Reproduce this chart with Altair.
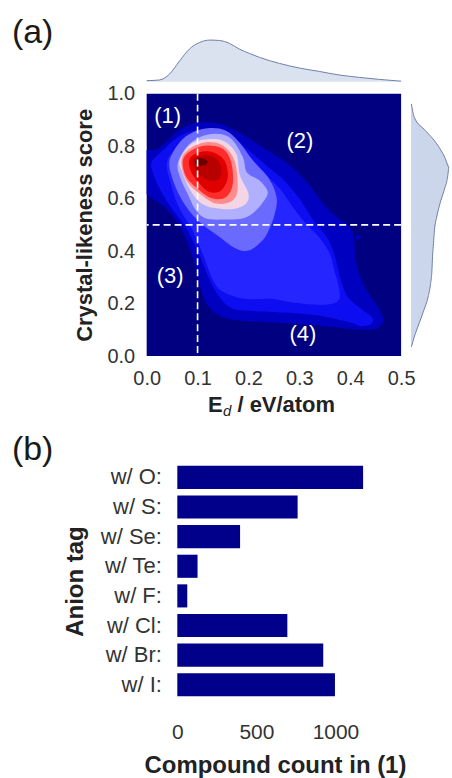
import altair as alt
import pandas as pd

FONT = "Liberation Sans"
LABEL_COLOR = "#333333"
TITLE_COLOR = "#222222"
NAVY = "#000080"
MARGIN_FILL = "#cbd6ea"
MARGIN_LINE = "#6f80a8"
BAR_COLOR = "#00008b"

# ---------------- panel (a): crystal-likeness score vs. E_d ----------------
ED_RANGE = [0.0, 0.5]
SCORE_RANGE = [0.0, 1.0]

# filled KDE bands, drawn from the outermost band inwards; outlines are (E_d, score)
band_order = ["b01", "b02", "b03", "b04", "b05", "b06",
              "b07", "b08", "b09", "b10", "b11", "b12"]
band_colors = ["#0000c0", "#0000c0", "#0d0df2", "#2525ff", "#6a6aff", "#b0b0ff",
               "#f3d5e5", "#ff8c8c", "#ff2c2c", "#e00000", "#b80000", "#6a0000"]

band_outlines = {
    "b01": [(-0.01, 0.77), (0.022, 0.79), (0.048, 0.834), (0.067, 0.866), (0.10, 0.89),
            (0.14, 0.886), (0.172, 0.862), (0.205, 0.824), (0.245, 0.775), (0.275, 0.738),
            (0.30, 0.695), (0.325, 0.64), (0.345, 0.585), (0.37, 0.535), (0.40, 0.49),
            (0.408, 0.44), (0.41, 0.37), (0.42, 0.30), (0.435, 0.24), (0.455, 0.185),
            (0.465, 0.14), (0.455, 0.108), (0.425, 0.10), (0.37, 0.11), (0.31, 0.12),
            (0.25, 0.128), (0.16, 0.142), (0.12, 0.193), (0.105, 0.27), (0.094, 0.357),
            (0.068, 0.484), (0.035, 0.568), (-0.01, 0.64)],
    "b02": [(0.409, 0.452), (0.415, 0.462), (0.421, 0.452), (0.415, 0.443)],
    "b03": [(0.01, 0.74), (0.035, 0.79), (0.06, 0.832), (0.09, 0.858), (0.13, 0.862),
            (0.165, 0.84), (0.20, 0.785), (0.245, 0.71), (0.27, 0.67), (0.30, 0.60),
            (0.33, 0.51), (0.355, 0.45), (0.37, 0.38), (0.38, 0.30), (0.395, 0.225),
            (0.425, 0.175), (0.444, 0.145), (0.44, 0.12), (0.42, 0.115), (0.40, 0.128),
            (0.343, 0.153), (0.278, 0.165), (0.22, 0.17), (0.17, 0.18), (0.145, 0.22),
            (0.125, 0.285), (0.107, 0.37), (0.08, 0.48), (0.05, 0.56), (0.025, 0.64),
            (0.012, 0.70)],
    "b04": [(0.04, 0.74), (0.065, 0.80), (0.10, 0.835), (0.14, 0.84), (0.175, 0.80),
            (0.21, 0.74), (0.235, 0.69), (0.265, 0.63), (0.29, 0.56), (0.315, 0.50),
            (0.34, 0.45), (0.36, 0.39), (0.368, 0.33), (0.378, 0.26), (0.376, 0.21),
            (0.343, 0.195), (0.284, 0.205), (0.245, 0.218), (0.192, 0.218), (0.15, 0.245),
            (0.13, 0.29), (0.112, 0.38), (0.09, 0.48), (0.065, 0.56), (0.05, 0.64)],
    "b05": [(0.045, 0.745), (0.065, 0.815), (0.091, 0.853), (0.124, 0.869), (0.156, 0.859),
            (0.182, 0.815), (0.209, 0.745), (0.235, 0.69), (0.25, 0.64), (0.256, 0.59),
            (0.25, 0.53), (0.24, 0.48), (0.228, 0.441), (0.202, 0.403), (0.176, 0.409),
            (0.143, 0.454), (0.11, 0.50), (0.085, 0.55), (0.065, 0.61), (0.05, 0.68)],
    "b06": [(0.061, 0.733), (0.078, 0.796), (0.104, 0.834), (0.137, 0.847), (0.166, 0.828),
            (0.189, 0.758), (0.197, 0.70), (0.222, 0.669), (0.238, 0.625), (0.228, 0.585),
            (0.212, 0.55), (0.19, 0.525), (0.15, 0.52), (0.115, 0.525), (0.095, 0.56),
            (0.08, 0.62), (0.066, 0.68)],
    "b07": [(0.065, 0.745), (0.084, 0.802), (0.11, 0.824), (0.15, 0.821), (0.176, 0.771),
            (0.183, 0.69), (0.20, 0.62), (0.195, 0.58), (0.17, 0.56), (0.13, 0.565),
            (0.105, 0.585), (0.085, 0.635), (0.07, 0.70)],
    "b08": [(0.068, 0.745), (0.084, 0.79), (0.117, 0.815), (0.15, 0.802), (0.1725, 0.745),
            (0.179, 0.644), (0.169, 0.593), (0.137, 0.581), (0.104, 0.619), (0.078, 0.669)],
    "b09": [(0.0712, 0.745), (0.0876, 0.783), (0.117, 0.802), (0.1497, 0.79), (0.166, 0.739),
            (0.1693, 0.657), (0.156, 0.606), (0.13, 0.60), (0.104, 0.631), (0.078, 0.682)],
    "b10": [(0.0843, 0.7516), (0.1039, 0.777), (0.13, 0.777), (0.1529, 0.745), (0.1595, 0.682),
            (0.1464, 0.631), (0.1235, 0.625), (0.1039, 0.657), (0.0876, 0.701)],
    "b11": [(0.0908, 0.745), (0.1105, 0.764), (0.1333, 0.758), (0.1464, 0.72), (0.1431, 0.676),
            (0.1235, 0.669), (0.1007, 0.695)],
    "b12": [(0.095, 0.74), (0.10, 0.752), (0.112, 0.752), (0.12, 0.74), (0.113, 0.727),
            (0.10, 0.728)],
}

# marginal densities (plotted heights)
top_ed = [0.0, 0.025, 0.045, 0.065, 0.084, 0.104, 0.124, 0.143, 0.163, 0.182,
          0.202, 0.222, 0.261, 0.3, 0.339, 0.378, 0.418, 0.457, 0.5]
top_density = [1.0, 1.7, 7.7, 21.0, 32.7, 39.3, 41.7, 41.3, 38.3, 32.7,
               28.3, 24.3, 18.3, 13.7, 10.3, 6.7, 4.3, 2.3, 0.5]

side_score = [0.035, 0.073, 0.124, 0.175, 0.225, 0.276, 0.327, 0.378, 0.428, 0.479,
              0.53, 0.58, 0.631, 0.682, 0.72, 0.758, 0.809, 0.859, 0.91, 0.961]
side_density = [0.3, 3.3, 8.3, 13.3, 17.7, 20.3, 21.7, 22.3, 23.3, 24.3,
                26.7, 30.0, 34.3, 38.0, 39.5, 35.0, 26.7, 15.0, 3.3, 0.3]

# quadrant split lines and quadrant tags
ed_cut = [0.1]
score_cut = [0.5]
region_text = ["(1)", "(2)", "(3)", "(4)"]
region_ed = [0.041, 0.301, 0.046, 0.307]
region_score = [0.916, 0.819, 0.305, 0.084]

# ---------------- panel (b): anion tags of region (1) ----------------
anion_tags = ["w/ O:", "w/ S:", "w/ Se:", "w/ Te:", "w/ F:", "w/ Cl:", "w/ Br:", "w/ I:"]
compound_counts = [1175, 761, 397, 128, 63, 696, 923, 997]

# ------------------------------------------------------------------------
rows = []
for name in band_order:
    for i, (ed, sc) in enumerate(band_outlines[name]):
        rows.append({"band": name, "vertex": i, "ed": ed, "score": sc})
contour_df = pd.DataFrame(rows)

ed_scale = alt.Scale(domain=ED_RANGE, nice=False, zero=False)
score_scale = alt.Scale(domain=SCORE_RANGE, nice=False, zero=False)

ed_axis = alt.Axis(values=[0.0, 0.1, 0.2, 0.3, 0.4, 0.5], format=".1f", title=None,
                   ticks=False, domain=False, grid=False, labelPadding=12,
                   labelFontSize=20, labelFont=FONT, labelColor=LABEL_COLOR,
                   labelFlush=False, labelOverlap=False)
score_axis = alt.Axis(values=[0.0, 0.2, 0.4, 0.6, 0.8, 1.0], format=".1f",
                      title="Crystal-likeness score", ticks=False, domain=False, grid=False,
                      labelPadding=12, labelFontSize=20, labelFont=FONT,
                      labelColor=LABEL_COLOR, labelFlush=False, labelOverlap=False,
                      titleFont=FONT, titleFontSize=22, titleFontWeight="bold",
                      titleColor=TITLE_COLOR, titleX=-62, titleY=131.5, titleAngle=270,
                      titleBaseline="middle", titleAlign="center")

contours = alt.Chart(contour_df).mark_line(
    filled=True, interpolate="cardinal-closed", strokeWidth=0, clip=True
).encode(
    x=alt.X("ed:Q", scale=ed_scale, axis=ed_axis),
    y=alt.Y("score:Q", scale=score_scale, axis=score_axis),
    color=alt.Color("band:N", scale=alt.Scale(domain=band_order, range=band_colors),
                    legend=None),
    order=alt.Order("vertex:Q"),
)

dash = dict(color="white", strokeDash=[7, 4], strokeWidth=1.6)
v_split = alt.Chart(pd.DataFrame({"ed": ed_cut})).mark_rule(**dash).encode(
    x=alt.X("ed:Q", scale=ed_scale, axis=None))
h_split = alt.Chart(pd.DataFrame({"score": score_cut})).mark_rule(**dash).encode(
    y=alt.Y("score:Q", scale=score_scale, axis=None))

regions = alt.Chart(pd.DataFrame({"tag": region_text, "ed": region_ed,
                                  "score": region_score})).mark_text(
    color="white", fontSize=22, font=FONT, baseline="middle", align="center"
).encode(
    x=alt.X("ed:Q", scale=ed_scale, axis=None),
    y=alt.Y("score:Q", scale=score_scale, axis=None),
    text="tag:N",
)

# top marginal density of E_d
top_df = pd.DataFrame({"ed": top_ed, "density": top_density})
top_y = alt.Scale(domain=[0, 42], range=[-12, -54], nice=False)
top_kde = alt.Chart(top_df).mark_area(
    color=MARGIN_FILL, interpolate="monotone",
    line=alt.OverlayMarkDef(color=MARGIN_LINE, strokeWidth=1)
).encode(
    x=alt.X("ed:Q", scale=ed_scale, axis=None),
    y=alt.Y("density:Q", scale=top_y, axis=None),
)

# right marginal density of the crystal-likeness score
side_df = pd.DataFrame({"score": side_score, "density": side_density})
side_x = alt.Scale(domain=[0, 40], range=[265, 303.5], nice=False)
side_fill = alt.Chart(side_df).mark_area(
    orient="horizontal", color=MARGIN_FILL, interpolate="monotone"
).encode(
    x=alt.X("density:Q", scale=side_x, axis=None),
    y=alt.Y("score:Q", scale=score_scale, axis=None),
)
side_edge = alt.Chart(side_df).mark_line(
    color=MARGIN_LINE, strokeWidth=1, interpolate="monotone", orient="horizontal"
).encode(
    x=alt.X("density:Q", scale=side_x, axis=None),
    y=alt.Y("score:Q", scale=score_scale, axis=None),
    order=alt.Order("score:Q"),
)

# x-axis title "E_d / eV/atom" with an italic subscript
def note(text, **style):
    return alt.Chart(pd.DataFrame({"t": [text]})).mark_text(font=FONT, **style).encode(
        text="t:N")

x_title_main = note("E", fontSize=22, fontWeight="bold", color=TITLE_COLOR,
                    align="left", baseline="alphabetic").encode(
    x=alt.value(61.5), y=alt.value(319))
x_title_sub = note("d", fontSize=15, fontStyle="italic", color=TITLE_COLOR,
                   align="left", baseline="alphabetic").encode(
    x=alt.value(76.5), y=alt.value(323))
x_title_unit = note("/ eV/atom", fontSize=22, fontWeight="bold", color=TITLE_COLOR,
                    align="left", baseline="alphabetic").encode(
    x=alt.value(91), y=alt.value(319))
a_label = note("(a)", fontSize=34, color="#1a1a1a", align="left",
               baseline="middle").encode(x=alt.value(-135), y=alt.value(-60.4))
corner = alt.Chart(pd.DataFrame({"t": [0]})).mark_rect(opacity=0).encode(
    x=alt.value(-147), x2=alt.value(-146), y=alt.value(-93), y2=alt.value(-92))

panel_a = alt.layer(
    contours, v_split, h_split, regions, top_kde, side_fill, side_edge,
    x_title_main, x_title_sub, x_title_unit, a_label, corner
).resolve_scale(x="independent", y="independent").properties(
    width=255, height=263, view=alt.ViewBackground(fill=NAVY, strokeWidth=0))

bar_df = pd.DataFrame({"tag": anion_tags, "count": compound_counts})
bars = alt.Chart(bar_df).mark_bar(color=BAR_COLOR).encode(
    y=alt.Y("tag:N", sort=anion_tags,
            scale=alt.Scale(paddingInner=0.22, paddingOuter=0.11),
            axis=alt.Axis(title="Anion tag", offset=-30.7, labelPadding=16, ticks=False,
                          domain=False, grid=False, labelFontSize=22, labelFont=FONT,
                          labelColor=LABEL_COLOR, titleFont=FONT, titleFontSize=24,
                          titleFontWeight="bold", titleColor=TITLE_COLOR,
                          titleX=-101.7, titleY=118.8, titleAngle=270,
                          titleBaseline="middle", titleAlign="center")),
    x=alt.X("count:Q", scale=alt.Scale(domain=[0, 1235], range=[30.7, 226.4], nice=False),
            axis=alt.Axis(values=[0, 500, 1000], format="d", title="Compound count in (1)",
                          ticks=False, domain=False, grid=False, labelPadding=22.3,
                          labelFontSize=21, labelFont=FONT, labelColor=LABEL_COLOR,
                          labelFlush=False, labelOverlap=False, titleFont=FONT,
                          titleFontSize=24, titleFontWeight="bold", titleColor=TITLE_COLOR,
                          titleY=66, titleBaseline="middle")),
)
b_label = note("(b)", fontSize=34, color="#1a1a1a", align="left",
               baseline="middle").encode(x=alt.value(-135), y=alt.value(-12.1))

panel_b = alt.layer(bars, b_label).properties(width=255, height=237.6)

chart = alt.vconcat(panel_a, panel_b, spacing=106.7, bounds="flush").properties(
    padding=0
).configure(font=FONT).configure_view(strokeWidth=0)

chart.save("out.html", embed_options={"renderer": "svg", "actions": False})
